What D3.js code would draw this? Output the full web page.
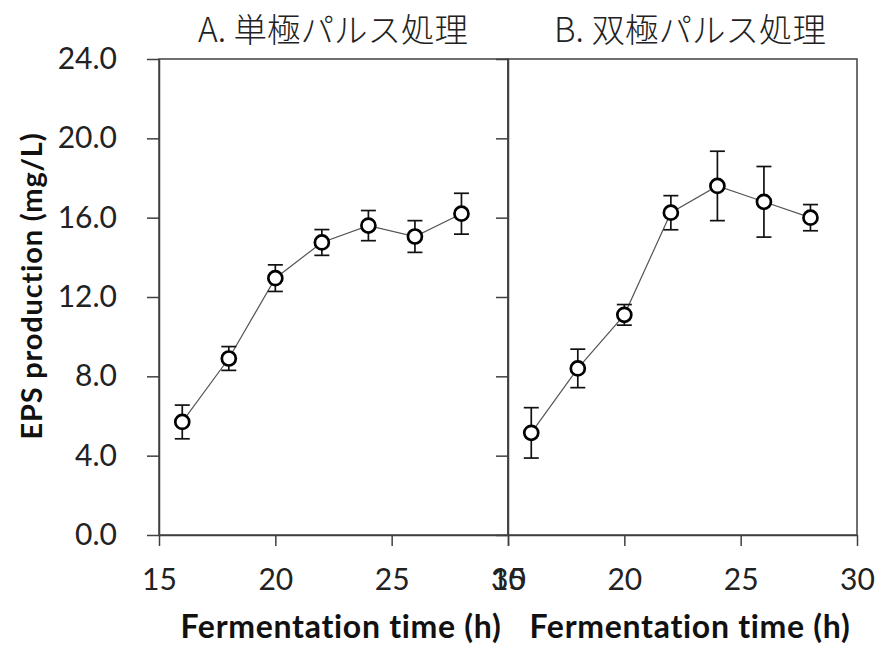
<!DOCTYPE html>
<html><head><meta charset="utf-8">
<script src="https://cdn.jsdelivr.net/npm/d3@7"></script>
<style>
body{margin:0;background:#fff;}
svg{display:block;}
.tick text{font-family:Lato,"Open Sans",sans-serif;font-size:30px;fill:#222;}
</style></head>
<body><svg id="c" width="882" height="646"></svg>
<script>
// ---- data ----
const hours = [16, 18, 20, 22, 24, 26, 28];
const monoMean = [5.7, 8.9, 12.95, 14.75, 15.6, 15.05, 16.2];
const monoErr  = [0.85, 0.6, 0.67, 0.65, 0.76, 0.8, 1.03];
const biMean   = [5.15, 8.4, 11.1, 16.25, 17.6, 16.8, 16.0];
const biErr    = [1.27, 0.97, 0.52, 0.86, 1.75, 1.78, 0.66];
const xTicks = [15, 20, 25, 30];
const yTicks = [0, 4, 8, 12, 16, 20, 24];
const titles = ["A. 単極パルス処理", "B. 双極パルス処理"];
const xTitle = "Fermentation time (h)";
const yTitle = "EPS production (mg/L)";

const svg = d3.select("#c");
const plotTop = 59, plotBottom = 535;
const panels = [
  {x0: 159, x1: 508, mean: monoMean, err: monoErr, title: titles[0], showY: true},
  {x0: 508, x1: 857, mean: biMean, err: biErr, title: titles[1], showY: false}
];
const y = d3.scaleLinear().domain([0, 24]).range([plotBottom, plotTop]);
const axisColor = "#404040";

panels.forEach((p, i) => {
  const x = d3.scaleLinear().domain([15, 30]).range([p.x0, p.x1]);
  const g = svg.append("g");
  // frame
  g.append("rect").attr("x", p.x0).attr("y", plotTop).attr("width", p.x1 - p.x0).attr("height", plotBottom - plotTop)
    .attr("fill", "none").attr("stroke", axisColor).attr("stroke-width", 1.5);
  // x axis
  const xa = g.append("g").attr("transform", `translate(0,${plotBottom})`)
    .call(d3.axisBottom(x).tickValues(xTicks).tickSize(11).tickSizeOuter(0).tickPadding(23).tickFormat(d3.format("d")));
  xa.select(".domain").attr("stroke", axisColor).attr("stroke-width", 1.5);
  xa.selectAll(".tick line").attr("stroke", axisColor).attr("stroke-width", 1.5);
  // y axis
  const ya = g.append("g").attr("transform", `translate(${p.x0},0)`)
    .call(d3.axisLeft(y).tickValues(yTicks).tickSize(12).tickSizeOuter(0).tickPadding(30).tickFormat(p.showY ? d3.format(".1f") : () => ""));
  ya.select(".domain").attr("stroke", axisColor).attr("stroke-width", 1.5);
  ya.selectAll(".tick line").attr("stroke", axisColor).attr("stroke-width", 1.5);

  // line
  const line = d3.line().x((d, j) => x(hours[j])).y(d => y(d));
  g.append("path").datum(p.mean).attr("d", line).attr("fill", "none").attr("stroke", "#555").attr("stroke-width", 1.2);
  // error bars
  const eb = g.append("g").attr("stroke", "#111").attr("stroke-width", 1.7);
  hours.forEach((h, j) => {
    const cx = x(h), yt = y(p.mean[j] + p.err[j]), yb = y(p.mean[j] - p.err[j]);
    eb.append("line").attr("x1", cx).attr("x2", cx).attr("y1", yt).attr("y2", yb);
    eb.append("line").attr("x1", cx - 7.5).attr("x2", cx + 7.5).attr("y1", yt).attr("y2", yt);
    eb.append("line").attr("x1", cx - 7.5).attr("x2", cx + 7.5).attr("y1", yb).attr("y2", yb);
  });
  // markers
  g.selectAll("circle.m").data(p.mean).join("circle").attr("class", "m")
    .attr("cx", (d, j) => x(hours[j])).attr("cy", d => y(d)).attr("r", 7)
    .attr("fill", "#fff").attr("stroke", "#000").attr("stroke-width", 2.7);

  // titles
  svg.append("text").attr("x", i === 0 ? 333 : 690).attr("y", 30).attr("dy", "0.36em")
    .attr("text-anchor", "middle").attr("font-family", "'Noto Sans CJK JP',sans-serif")
    .attr("font-weight", 300)
    .attr("font-size", 33.5).attr("fill", "#222").text(p.title);
  svg.append("text").attr("x", i === 0 ? 341 : 690).attr("y", 638)
    .attr("text-anchor", "middle").attr("font-family", "Lato,'Open Sans',sans-serif")
    .attr("font-weight", "bold").attr("font-size", 32).attr("letter-spacing", 0.7)
    .attr("fill", "#111").text(xTitle);
});

svg.append("text").attr("transform", "translate(42,286) rotate(-90)")
  .attr("text-anchor", "middle").attr("font-family", "Lato,'Open Sans',sans-serif")
  .attr("font-weight", "bold").attr("font-size", 29).attr("letter-spacing", 0.8)
  .attr("fill", "#111").text(yTitle);
</script></body></html>
